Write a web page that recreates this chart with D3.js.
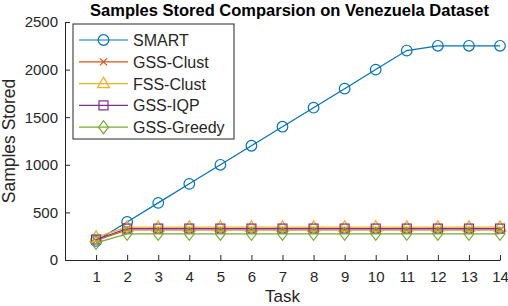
<!DOCTYPE html>
<html>
<head>
<meta charset="utf-8">
<script src="https://cdn.jsdelivr.net/npm/d3@7"></script>
<style>
  body { margin: 0; background: #fff; }
  text { font-family: "Liberation Sans", Arial, Helvetica, sans-serif; fill: #262626; }
</style>
</head>
<body>
<div class="chart"></div>
<script>
// data
var tasks = [1, 2, 3, 4, 5, 6, 7, 8, 9, 10, 11, 12, 13, 14];
var smart = [200, 400, 600, 800, 1000, 1200, 1400, 1600, 1800, 2000, 2200, 2250, 2250, 2250];
var gssClust = [205, 315, 315, 315, 315, 315, 315, 315, 315, 315, 315, 315, 315, 315];
var fssClust = [240, 345, 345, 345, 345, 345, 345, 345, 345, 345, 345, 345, 345, 345];
var gssIqp = [215, 330, 330, 330, 330, 330, 330, 330, 330, 330, 330, 330, 330, 330];
var gssGreedy = [180, 275, 275, 275, 275, 275, 275, 275, 275, 275, 275, 275, 275, 275];
var yTicks = [0, 500, 1000, 1500, 2000, 2500];

var series = [
    { name: "SMART", values: smart, color: "#0072BD", marker: "circle" },
    { name: "GSS-Clust", values: gssClust, color: "#D95319", marker: "x" },
    { name: "FSS-Clust", values: fssClust, color: "#EDB120", marker: "triangle" },
    { name: "GSS-IQP", values: gssIqp, color: "#7E2F8E", marker: "square" },
    { name: "GSS-Greedy", values: gssGreedy, color: "#77AC30", marker: "diamond" }
];

var W = 508, H = 306;
var margin = { top: 22, right: 8, bottom: 46, left: 65 };
var width = W - margin.left - margin.right,
    height = H - margin.top - margin.bottom;

var svg = d3.select(".chart").append("svg")
    .attr("width", W)
    .attr("height", H);

var g = svg.append("g")
    .attr("transform", "translate(" + margin.left + "," + margin.top + ")");

var x = d3.scaleLinear().domain([0, 14]).range([0, width]);
var y = d3.scaleLinear().domain([0, 2500]).range([height, 0]);

// axes (ticks point inward like matlab)
var xAxis = g.append("g")
    .attr("transform", "translate(0," + height + ")")
    .call(d3.axisBottom(x).tickValues(tasks).tickFormat(d3.format("d"))
        .tickSize(-5).tickPadding(11).tickSizeOuter(0));
var yAxis = g.append("g")
    .call(d3.axisLeft(y).tickValues(yTicks).tickFormat(d3.format("d"))
        .tickSize(-5).tickPadding(7).tickSizeOuter(0));

[xAxis, yAxis].forEach(function (a) {
    a.select(".domain").attr("stroke", "#262626").attr("stroke-width", 1);
    a.selectAll(".tick line").attr("stroke", "#262626");
    a.selectAll(".tick text")
        .attr("font-family", "Liberation Sans, Arial, sans-serif")
        .attr("font-size", 15).attr("fill", "#262626");
});

// labels
svg.append("text")
    .attr("x", margin.left + width / 2 + 7).attr("y", 16)
    .attr("text-anchor", "middle")
    .attr("font-size", 16.5).attr("font-weight", "bold")
    .style("fill", "#000")
    .text("Samples Stored Comparsion on Venezuela Dataset");

svg.append("text")
    .attr("x", margin.left + width / 2).attr("y", 302)
    .attr("text-anchor", "middle")
    .attr("font-size", 17)
    .text("Task");

svg.append("text")
    .attr("transform", "translate(15," + (margin.top + height / 2) + ") rotate(-90)")
    .attr("text-anchor", "middle")
    .attr("font-size", 17.5)
    .text("Samples Stored");

// marker drawing
function drawMarker(sel, type, color) {
    if (type === "circle") {
        sel.append("circle").attr("r", 5.3)
            .attr("fill", "none").attr("stroke", color).attr("stroke-width", 1.2);
    } else if (type === "x") {
        sel.append("path").attr("d", "M-3.5,-3.5L3.5,3.5M-3.5,3.5L3.5,-3.5")
            .attr("fill", "none").attr("stroke", color).attr("stroke-width", 1.2);
    } else if (type === "triangle") {
        sel.append("path").attr("d", "M0,-6.5L6,4L-6,4Z")
            .attr("fill", "none").attr("stroke", color).attr("stroke-width", 1.2);
    } else if (type === "square") {
        sel.append("rect").attr("x", -4.5).attr("y", -4.5).attr("width", 9).attr("height", 9)
            .attr("fill", "none").attr("stroke", color).attr("stroke-width", 1.2);
    } else if (type === "diamond") {
        sel.append("path").attr("d", "M0,-6.5L5,0L0,6.5L-5,0Z")
            .attr("fill", "none").attr("stroke", color).attr("stroke-width", 1.2);
    }
}

var line = d3.line()
    .x(function (d, i) { return x(tasks[i]); })
    .y(function (d) { return y(d); });

series.forEach(function (s) {
    g.append("path")
        .datum(s.values)
        .attr("fill", "none")
        .attr("stroke", s.color)
        .attr("stroke-width", 1.2)
        .attr("d", line);

    g.selectAll(null)
        .data(s.values)
        .enter().append("g")
        .attr("transform", function (d, i) { return "translate(" + x(tasks[i]) + "," + y(d) + ")"; })
        .each(function () { drawMarker(d3.select(this), s.marker, s.color); });
});

// legend
var lg = svg.append("g").attr("transform", "translate(73,24)");
lg.append("rect")
    .attr("width", 161).attr("height", 115)
    .attr("fill", "#fff").attr("stroke", "#262626").attr("stroke-width", 1);

series.forEach(function (s, i) {
    var yy = 16 + i * 21.8;
    lg.append("line")
        .attr("x1", 6).attr("x2", 55).attr("y1", yy).attr("y2", yy)
        .attr("stroke", s.color).attr("stroke-width", 1.2);
    var m = lg.append("g").attr("transform", "translate(30.5," + yy + ")");
    drawMarker(m, s.marker, s.color);
    lg.append("text")
        .attr("x", 60).attr("y", yy + 6)
        .attr("font-size", 16)
        .text(s.name);
});
</script>
</body>
</html>
